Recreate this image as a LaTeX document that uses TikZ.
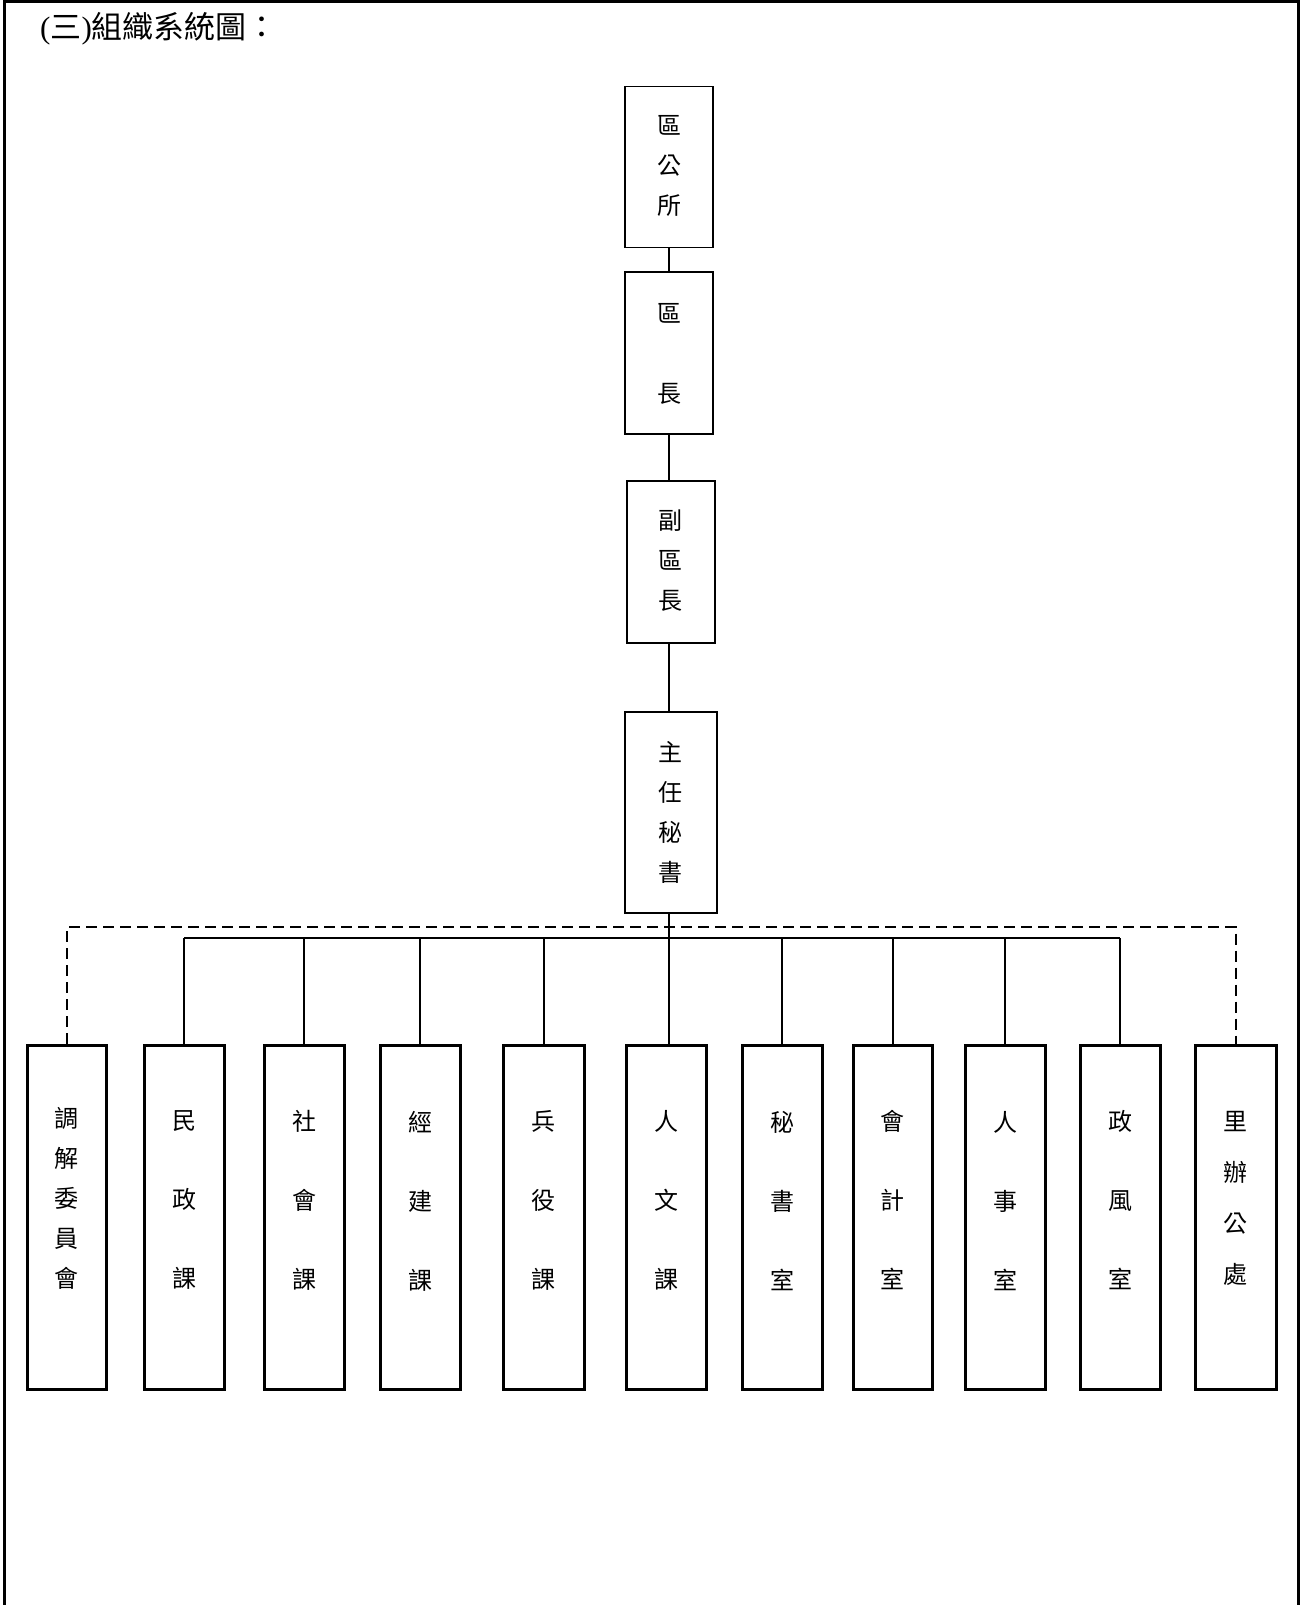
\documentclass[tikz,border=0pt]{standalone}
\usepackage{fontspec}
\setmainfont{Noto Sans CJK TC}
\newfontfamily\tnr{Liberation Serif}
\begin{document}
\begin{tikzpicture}[x=1pt,y=-1pt,
  topbox/.style={draw, line width=1.8pt, inner sep=0pt, minimum width=88pt},
  botbox/.style={draw, line width=3pt, inner sep=0pt, minimum width=80pt, minimum height=344pt},
  lbl/.style={inner sep=0pt, align=center},
  conn/.style={line width=2pt},
  dashconn/.style={line width=2pt, dash pattern=on 11pt off 6pt}]
\useasboundingbox (0,0) rectangle (1301,1605);
% frame (left, top, right)
\draw[line width=3pt] (4,1605) -- (4,2) -- (1298,2) -- (1298,1605);
\node[anchor=west, inner sep=0pt, font=\fontsize{31}{33}\selectfont] (title) at (40,29) {{\tnr(}三{\tnr)}組織系統圖：};
% top chain
\node[topbox, minimum height=161pt] (qgs) at (669,167) {};
\node[lbl, font=\fontsize{24}{40}\selectfont] (tqgs) at (669,166) {區\\公\\所};
\node[topbox, minimum height=162pt] (qz) at (669,353) {};
\node[lbl, font=\fontsize{24}{80}\selectfont] (tqz) at (669,354) {區\\長};
\node[topbox, minimum height=162pt] (fqz) at (671,562) {};
\node[lbl, font=\fontsize{24}{40}\selectfont] (tfqz) at (670,561) {副\\區\\長};
\node[topbox, minimum width=92pt, minimum height=201pt] (zr) at (671,812.5) {};
\node[lbl, font=\fontsize{24}{40}\selectfont] (tzr) at (670,812) {主\\任\\秘\\書};
\draw[conn] (qgs.south) -- (qz.north);
\draw[conn] (qz.south) -- (qz.south |- fqz.north);
\coordinate (c3) at (fqz.south -| qz.south);
\draw[conn] (c3) -- (c3 |- zr.north);
% bottom boxes
\node[botbox, minimum width=79pt] (b1) at (66.5,1217) {};
\node[botbox] (b2) at (184,1217) {};
\node[botbox] (b3) at (304,1217) {};
\node[botbox] (b4) at (420,1217) {};
\node[botbox, minimum width=81pt] (b5) at (543.5,1217) {};
\node[botbox] (b6) at (666,1217) {};
\node[botbox] (b7) at (782,1217) {};
\node[botbox, minimum width=79pt] (b8) at (892.5,1217) {};
\node[botbox] (b9) at (1005,1217) {};
\node[botbox] (b10) at (1120,1217) {};
\node[botbox, minimum width=81pt] (b11) at (1235.5,1217) {};
% labels
\node[lbl, font=\fontsize{24}{40}\selectfont] (t1) at (66.5,1198) {調\\解\\委\\員\\會};
\node[lbl, font=\fontsize{24}{79}\selectfont] (t2) at (184,1200) {民\\政\\課};
\node[lbl, font=\fontsize{24}{79}\selectfont] (t3) at (304,1200) {社\\會\\課};
\node[lbl, font=\fontsize{24}{79}\selectfont] (t4) at (420,1201) {經\\建\\課};
\node[lbl, font=\fontsize{24}{79}\selectfont] (t5) at (543.5,1200) {兵\\役\\課};
\node[lbl, font=\fontsize{24}{79}\selectfont] (t6) at (666,1200) {人\\文\\課};
\node[lbl, font=\fontsize{24}{79}\selectfont] (t7) at (782,1201) {秘\\書\\室};
\node[lbl, font=\fontsize{24}{79}\selectfont] (t8) at (892.5,1200) {會\\計\\室};
\node[lbl, font=\fontsize{24}{79}\selectfont] (t9) at (1005,1201) {人\\事\\室};
\node[lbl, font=\fontsize{24}{79}\selectfont] (t10) at (1120,1200) {政\\風\\室};
\node[lbl, font=\fontsize{24}{51}\selectfont] (t11) at (1235.5,1198) {里\\辦\\公\\處};
% bus
\coordinate (busL) at (184,938);
\coordinate (busR) at (1120,938);
\coordinate (dashY) at (0,927);
\draw[conn] (busL) -- (busR);
\coordinate (trunk) at (zr.south -| qz.south);
\draw[conn] (trunk) -- (trunk |- b6.north);
\foreach \b in {b2,b3,b4,b5,b7,b8,b9,b10}{
  \draw[conn] (\b.north |- busL) -- (\b.north);
}
\draw[dashconn] (b1.north) -- (b1.north |- dashY) -| (b11.north);
\end{tikzpicture}
\end{document}
